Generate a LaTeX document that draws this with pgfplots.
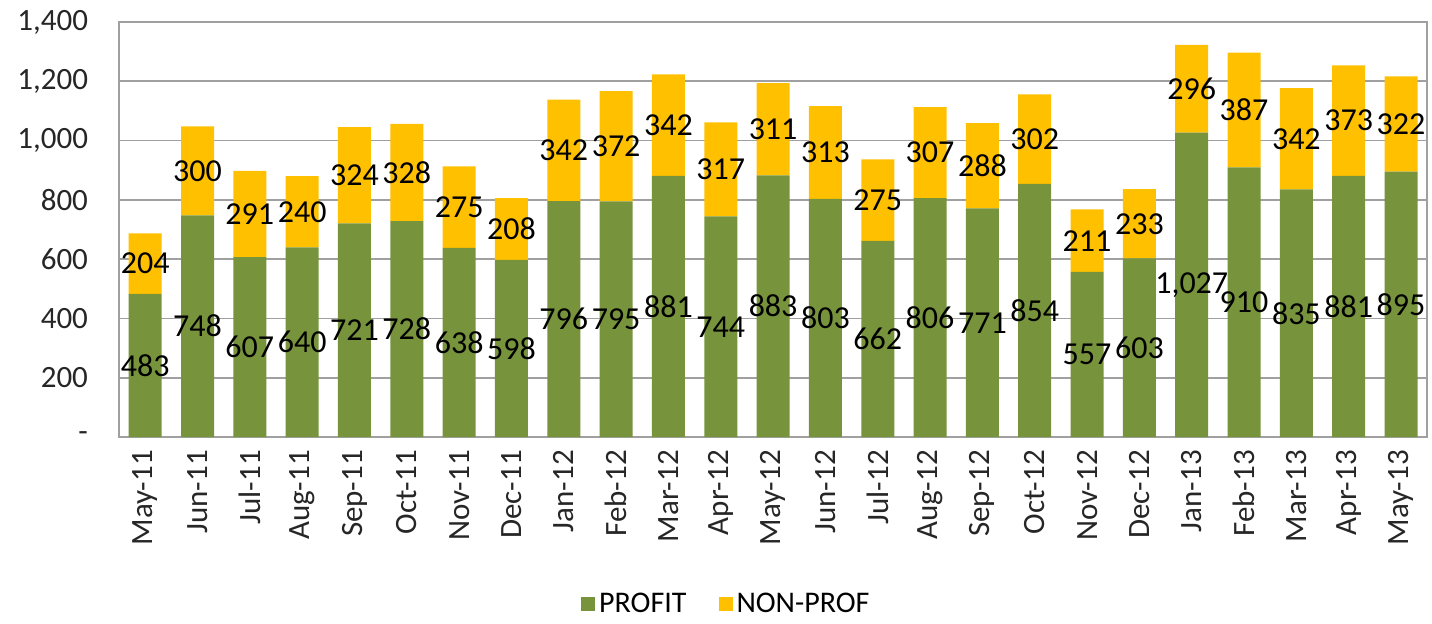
\documentclass[border=0pt]{standalone}
\usepackage{fontspec}
\setmainfont{Carlito}
\usepackage{pgfplots}
\pgfplotsset{compat=1.18}

\definecolor{profitgreen}{RGB}{119,147,60}
\definecolor{nonprofyellow}{RGB}{255,192,0}
\definecolor{gridgray}{RGB}{160,160,160}

% monthly counts, May-11 .. May-13
\pgfplotstableread{
x profit nonprof
0  483 204
1  748 300
2  607 291
3  640 240
4  721 324
5  728 328
6  638 275
7  598 208
8  796 342
9  795 372
10 881 342
11 744 317
12 883 311
13 803 313
14 662 275
15 806 307
16 771 288
17 854 302
18 557 211
19 603 233
20 1027 296
21 910 387
22 835 342
23 881 373
24 895 322
}\datatable

\begin{document}
\begin{tikzpicture}
\begin{axis}[
  name=ax,
  scale only axis,
  width=654pt, height=207.5pt,
  ybar stacked,
  bar width=16.5pt,
  xmin=-0.5, xmax=24.5,
  ymin=0, ymax=1400,
  xtick=data,
  xticklabels={May-11,Jun-11,Jul-11,Aug-11,Sep-11,Oct-11,Nov-11,Dec-11,Jan-12,Feb-12,Mar-12,Apr-12,May-12,Jun-12,Jul-12,Aug-12,Sep-12,Oct-12,Nov-12,Dec-12,Jan-13,Feb-13,Mar-13,Apr-13,May-13},
  ytick={0,200,...,1400},
  yticklabels={-,200,400,600,800,{1,000},{1,200},{1,400}},
  major tick length=0pt,
  ymajorgrids,
  grid style={gridgray, line width=0.8pt},
  axis line style={gridgray, line width=0.8pt},
  tick label style={font=\fontsize{15.5}{17}\selectfont, text=black!85},
  xticklabel style={rotate=90, anchor=east},
  xticklabel shift=3pt,
  yticklabel style={xshift=-12pt},
  /pgf/number format/.cd, 1000 sep={,}, assume math mode=true,
  /pgfplots/.cd,
  nodes near coords,
  % stacked bars already put these labels at the middle of each segment
  every node near coord/.append style={font=\fontsize{16}{18}\selectfont, text=black, anchor=center},
  legend columns=2,
  legend style={draw=none, at={(0.465,0)}, yshift=-83.5pt, anchor=center,
    font=\fontsize{15}{17}\selectfont, /tikz/every even column/.append style={column sep=14pt}},
  legend image code/.code={\fill[#1] (0pt,-3.5pt) rectangle (7pt,3.5pt);},
]
\addplot[fill=profitgreen, draw=none] table[x=x, y=profit] {\datatable};
\addplot[fill=nonprofyellow, draw=none] table[x=x, y=nonprof] {\datatable};
\legend{PROFIT, NON-PROF}
\end{axis}
\path ([xshift=-59.5pt,yshift=-91pt]ax.south west) rectangle ([xshift=1.6pt,yshift=11pt]ax.north east);
\end{tikzpicture}
\end{document}
